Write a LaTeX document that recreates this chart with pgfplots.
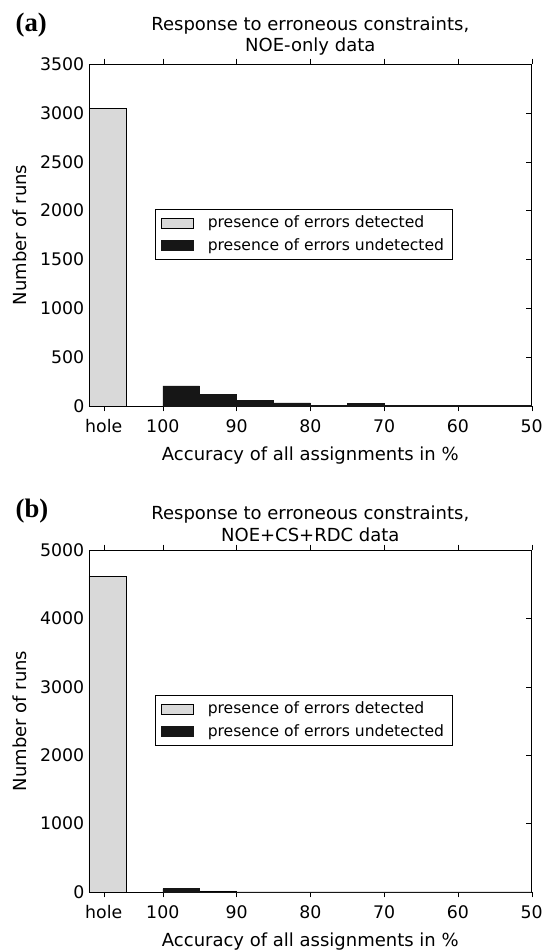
\documentclass[border=0pt]{standalone}
\usepackage{pgfplots}
\pgfplotsset{compat=1.18}
\usepackage{fontspec}
\setmainfont{DejaVu Sans}
\newfontfamily\serifbf{Liberation Serif}
\definecolor{lgray}{RGB}{217,217,217}
\definecolor{dk}{RGB}{22,22,22}
\pgfplotsset{
 myaxis/.style={
  scale only axis, width=332pt, height=256.5pt,
  x dir=reverse, xmin=50, xmax=110,
  xtick={108,100,90,80,70,60,50},
  xticklabels={hole,100,90,80,70,60,50},
  tick align=inside, tick pos=both,
  major tick length=4pt,
  ymin=0,
  ybar, bar width=5, bar shift=0pt,
  font=\fontsize{13}{15}\selectfont,
  tick label style={font=\fontsize{13}{15}\selectfont},
  xticklabel style={yshift=-2.5pt},
  title style={align=center, font=\fontsize{13.5}{16}\selectfont, yshift=-3pt},
  xlabel={Accuracy of all assignments in \%},
  ylabel={Number of runs},
  label style={font=\fontsize{13.5}{16}\selectfont},
  xlabel style={yshift=-4pt},
  ylabel style={yshift=3pt},
  legend style={at={(0.149,0.576)}, anchor=north west, draw=black,
    font=\fontsize{11.7}{14}\selectfont, row sep=2.7pt, inner xsep=4pt, inner ysep=3pt},
  legend cell align=left,
  legend image code/.code={\draw[#1] (0pt,-3.8pt) rectangle (24pt,3.8pt); \path (33pt,0pt);},
  /pgf/number format/assume math mode=true,
  /pgf/number format/1000 sep={},
  scaled y ticks=false,
  axis line style={black}, tick style={black},
 }
}
\begin{document}
\begin{tikzpicture}
\path[use as bounding box] (-66.75pt,-408pt) rectangle (342pt,304.5pt);
\begin{axis}[myaxis, at={(0,0)}, anchor=south west,
  ymax=3500, ytick={0,500,...,3500},
  title={Response to erroneous constraints,\\NOE-only data}]
\addplot[fill=lgray, draw=black] coordinates {(107.5,3050)};
\addplot[fill=dk, draw=dk] coordinates {(97.5,205) (92.5,120) (87.5,55) (82.5,33) (77.5,8) (72.5,25) (67.5,7) (62.5,5) (57.5,4) (52.5,4)};
\legend{presence of errors detected, presence of errors undetected}
\end{axis}
\node[anchor=west, font=\serifbf\bfseries\fontsize{20}{20}\selectfont] at (-58.5pt,285.5pt) {(a)};
\begin{axis}[myaxis, at={(0,-364.5pt)}, anchor=south west,
  ymax=5000, ytick={0,1000,...,5000},
  title={Response to erroneous constraints,\\NOE+CS+RDC data}]
\addplot[fill=lgray, draw=black] coordinates {(107.5,4620) (92.5,18)};
\addplot[fill=dk, draw=dk] coordinates {(97.5,48) (92.5,3) (87.5,2) (82.5,1) (77.5,1) (72.5,1) (67.5,1) (62.5,1) (57.5,1) (52.5,1)};
\legend{presence of errors detected, presence of errors undetected}
\end{axis}
\node[anchor=west, font=\serifbf\bfseries\fontsize{20}{20}\selectfont] at (-58.5pt,-79pt) {(b)};
\end{tikzpicture}
\end{document}
